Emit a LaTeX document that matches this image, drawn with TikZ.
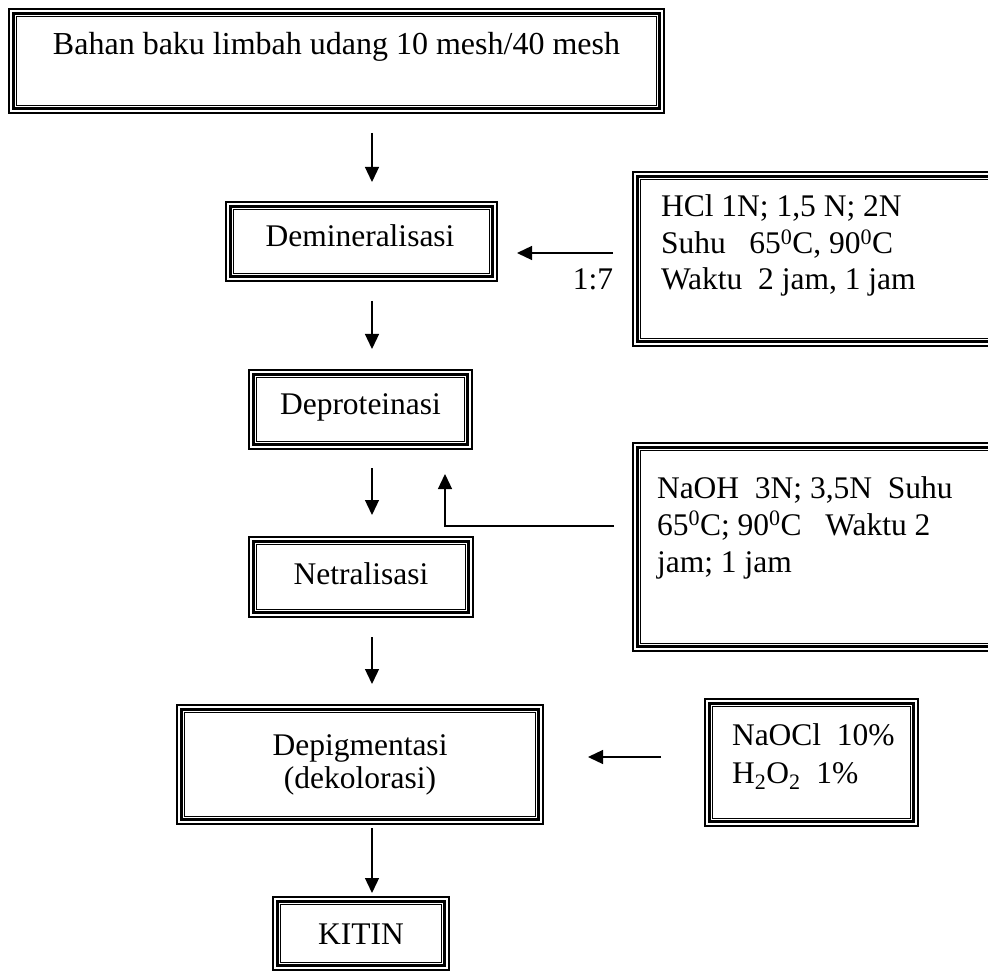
\documentclass[tikz,border=0pt]{standalone}
\usepackage{fontspec}
\setmainfont{Liberation Serif}
\usetikzlibrary{arrows.meta,calc}
\newcommand\tripleline[1]{%
  \draw[line width=3pt] ($(#1.north west)+(4.2,4.2)$) rectangle ($(#1.south east)+(-4.2,-4.2)$);
  \draw[line width=1pt] ($(#1.north west)+(7.4,7.4)$) rectangle ($(#1.south east)+(-7.4,-7.4)$);}
\begin{document}
\begin{tikzpicture}[x=1pt,y=-1pt,
  every node/.style={font=\fontsize{31.5}{36.5}\selectfont, inner sep=0pt, outer sep=0pt},
  box/.style={draw, line width=1.2pt, rectangle},
  txt/.style={anchor=base},
  info/.style={anchor=base west},
  arr/.style={line width=1.3pt, -{Triangle[width=14pt,length=15pt]}}]
\useasboundingbox (0,0) rectangle (988,973);
\clip (0,0) rectangle (988,973);
% main column boxes
\node[box, minimum width=655pt, minimum height=104pt] (top) at (336.5,61) {};
\node[box, minimum width=271pt, minimum height=79pt] (demin) at (361.5,241.5) {};
\node[box, minimum width=223pt, minimum height=79pt] (depro) at (360.5,409.5) {};
\node[box, minimum width=224pt, minimum height=80pt] (netral) at (361,577) {};
\node[box, minimum width=366pt, minimum height=119pt] (depig) at (360,764.5) {};
\node[box, minimum width=176pt, minimum height=73pt] (kitin) at (361,933.5) {};
% side boxes
\node[box, minimum width=367pt, minimum height=174pt] (hcl) at (816.5,259) {};
\node[box, minimum width=367pt, minimum height=208pt] (naoh) at (816.5,547) {};
\node[box, minimum width=213pt, minimum height=127pt] (naocl) at (811.5,762.5) {};
\foreach \b in {top,demin,depro,netral,depig,kitin,hcl,naoh,naocl}{\tripleline{\b}}
% texts
\node[txt, font=\fontsize{32}{37}\selectfont] (ttop) at (336.5,55) {Bahan baku limbah udang 10 mesh/40 mesh};
\node[txt] (tdemin) at (360,247) {Demineralisasi};
\node[txt] (tdepro) at (360.5,415) {Deproteinasi};
\node[txt] (tnetral) at (361,584) {Netralisasi};
\node[txt] (tdepig1) at (360,755) {Depigmentasi};
\node[txt] (tdepig2) at (360,788) {(dekolorasi)};
\node[txt] (tkitin) at (361,944) {KITIN};
\node[info] (h1) at (661,217) {HCl 1N; 1,5 N; 2N};
\node[info] (h2) at (661,253.5) {Suhu\ \ \ 65\textsuperscript{0}C, 90\textsuperscript{0}C};
\node[info] (h3) at (661,290) {Waktu\ \ 2 jam, 1 jam};
\node[anchor=base east] (ratio) at (613,290) {1:7};
\node[info] (n1) at (657,498) {NaOH\ \ 3N; 3,5N\ \ Suhu};
\node[info] (n2) at (657,535) {65\textsuperscript{0}C; 90\textsuperscript{0}C\ \ \ Waktu 2};
\node[info] (n3) at (657,572) {jam; 1 jam};
\node[info] (o1) at (732,745) {NaOCl\ \ 10\%};
\node[info] (o2) at (732,783) {H\textsubscript{2}O\textsubscript{2}\ \ 1\%};
% connectors
\coordinate (ax) at (372,0);
\coordinate (yh) at (0,253);
\coordinate (bend) at (445,526);
\coordinate (yd) at (0,757);
\draw[arr, shorten <=20pt, shorten >=20pt] (top.south -| ax) -- (demin.north -| ax);
\draw[arr, shorten <=20pt, shorten >=21pt] (demin.south -| ax) -- (depro.north -| ax);
\draw[arr, shorten <=19pt, shorten >=22pt] (depro.south -| ax) -- (netral.north -| ax);
\draw[arr, shorten <=20pt, shorten >=21pt] (netral.south -| ax) -- (depig.north -| ax);
\draw[arr, shorten <=4pt, shorten >=4pt] (depig.south -| ax) -- (kitin.north -| ax);
\draw[arr, shorten <=20pt, shorten >=20pt] (hcl.west |- yh) -- (demin.east |- yh);
\draw[arr, shorten >=25pt] ([xshift=-19pt]naoh.west |- bend) -- (bend) -- (bend |- depro.south);
\draw[arr, shorten <=44pt, shorten >=45pt] (naocl.west |- yd) -- (depig.east |- yd);
\end{tikzpicture}
\end{document}
